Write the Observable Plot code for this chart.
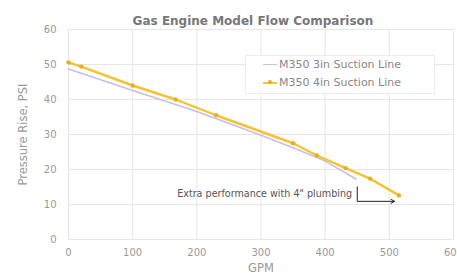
<!DOCTYPE html>
<html>
<head>
<meta charset="utf-8">
<script src="https://cdn.jsdelivr.net/npm/d3@7"></script>
<script src="https://cdn.jsdelivr.net/npm/@observablehq/plot@0.6"></script>
<style>
  html, body { margin: 0; padding: 0; background: #fff; }
  #wrap { position: relative; width: 457px; height: 278px; font-family: "DejaVu Sans", sans-serif; }
  #legend { position: absolute; left: 245px; top: 55px; width: 188px; height: 37px; background: #fff; border: 1px solid #ececec; font-size: 11px; color: #888; }
  .row { position: absolute; left: 17px; display: flex; align-items: center; }
  .sw { width: 14px; height: 0; margin-right: 2px; }
</style>
</head>
<body>
<div id="wrap">
  <div id="legend"></div>
</div>
<script>
const title = "Gas Engine Model Flow Comparison";
const seriesNames = ["M350 3in Suction Line", "M350 4in Suction Line"];
const seriesColors = ["#cbbde6", "#f3c430"];

const gpm3in = [0, 100, 200, 300, 350, 400, 448];
const psi3in = [48.7, 42.6, 36.6, 29.8, 26.2, 22.4, 17.3];

const gpm4in = [0, 20, 100, 167, 230, 350, 387, 432, 470, 515];
const psi4in = [50.6, 49.4, 44.0, 40.0, 35.5, 27.5, 24.0, 20.4, 17.4, 12.6];

const xTicks = [0, 100, 200, 300, 400, 500, 600];
const yTicks = [0, 10, 20, 30, 40, 50, 60];

const noteText = "Extra performance with 4\" plumbing";
const noteX = [442];
const noteY = [13.1];
const bracketX = [450];
const bracketY1 = [15.0];
const bracketY2 = [10.9];
const arrowX2 = [508];

const d3in = gpm3in.map((x, i) => ({x, y: psi3in[i]}));
const d4in = gpm4in.map((x, i) => ({x, y: psi4in[i]}));

const chart = Plot.plot({
  width: 457,
  height: 278,
  marginLeft: 68,
  marginRight: 4,
  marginTop: 29,
  marginBottom: 39,
  style: {fontFamily: "DejaVu Sans, sans-serif", fontSize: "10px", color: "#888", background: "#fff", overflow: "visible"},
  x: {domain: [0, 600], ticks: xTicks},
  y: {domain: [0, 60], ticks: yTicks},
  marks: [
    Plot.gridX(xTicks, {stroke: "#e6e6e6", strokeOpacity: 1}),
    Plot.gridY(yTicks, {stroke: "#e6e6e6", strokeOpacity: 1}),
    Plot.axisX(xTicks, {tickSize: 0, tickPadding: 9, fill: "#999", fontSize: 10,
      label: "GPM", labelAnchor: "center", labelOffset: 32, labelArrow: "none"}),
    Plot.axisY(yTicks, {tickSize: 0, tickPadding: 12, fill: "#999", fontSize: 10,
      label: "Pressure Rise, PSI", labelAnchor: "center", labelOffset: 50, labelArrow: "none"}),
    Plot.line(d3in, {x: "x", y: "y", stroke: seriesColors[0], strokeWidth: 1.6}),
    Plot.line(d4in, {x: "x", y: "y", stroke: seriesColors[1], strokeWidth: 2.4}),
    Plot.dot(d4in, {x: "x", y: "y", r: 2.2, fill: "#e2b020", stroke: "none"}),
    Plot.text([noteText], {x: noteX, y: noteY, text: d => d, textAnchor: "end", fill: "#555", fontSize: 9.6}),
    Plot.ruleX([0], {x: bracketX, y1: bracketY1, y2: bracketY2, stroke: "#222", strokeWidth: 1}),
    Plot.arrow([0], {x1: bracketX, y1: bracketY2, x2: arrowX2, y2: bracketY2, stroke: "#222", strokeWidth: 1, headLength: 6, inset: 0}),
    Plot.text([title], {frameAnchor: "top", dy: -13, dx: -8, text: d => d, fontWeight: "bold", fontSize: 12, fill: "#777"})
  ]
});
chart.querySelectorAll("g[aria-label='x-axis label'] text, g[aria-label='y-axis label'] text").forEach(t => {
  t.setAttribute("font-size", "11.5");
});
document.getElementById("wrap").prepend(chart);

const legend = document.getElementById("legend");
seriesNames.forEach((name, i) => {
  const row = document.createElement("div");
  row.className = "row";
  row.style.top = (i === 0 ? 2 : 20) + "px";
  const sw = document.createElement("span");
  sw.className = "sw";
  sw.style.borderTop = (i === 0 ? 1.6 : 2.4) + "px solid " + seriesColors[i];
  sw.style.position = "relative";
  if (i === 1) {
    const dot = document.createElement("span");
    dot.style.cssText = "position:absolute;left:5px;top:-3.4px;width:4px;height:4px;border-radius:2px;background:#e2b020";
    sw.appendChild(dot);
  }
  row.appendChild(sw);
  const t = document.createElement("span");
  t.textContent = name;
  row.appendChild(t);
  legend.appendChild(row);
});
</script>
</body>
</html>
